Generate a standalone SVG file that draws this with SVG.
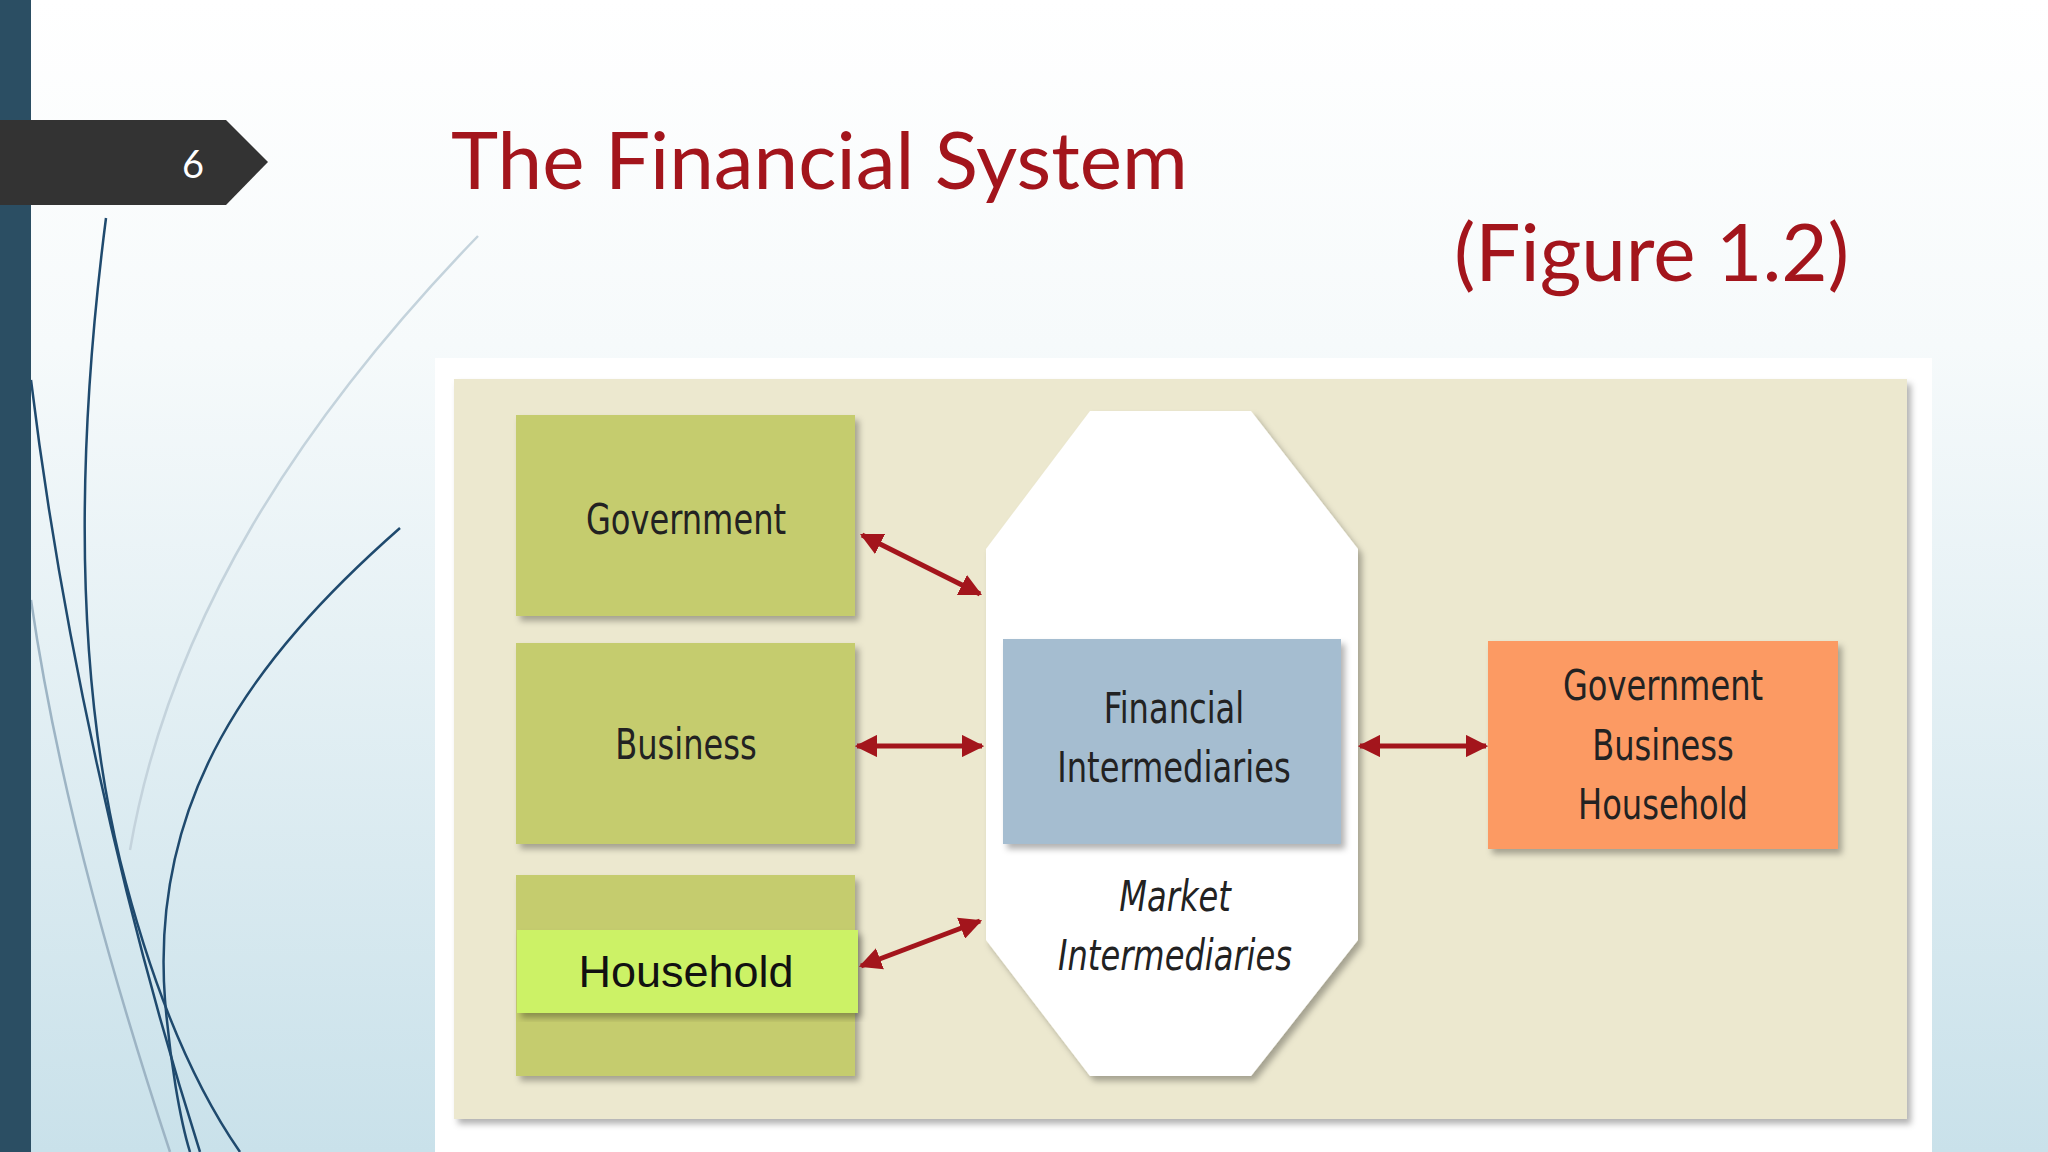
<svg xmlns="http://www.w3.org/2000/svg" width="2048" height="1152" viewBox="0 0 2048 1152">
<defs>
<linearGradient id="bg" x1="0" y1="0" x2="0" y2="1"><stop offset="0" stop-color="#ffffff"/><stop offset="0.3" stop-color="#f6fafb"/><stop offset="1" stop-color="#c9e1ea"/></linearGradient>
<marker id="ah" viewBox="0 0 10 10" refX="9" refY="5" markerWidth="4.5" markerHeight="4.5" orient="auto-start-reverse"><path d="M0,0L10,5L0,10z" fill="#a3151c"/></marker>
<filter id="sh" x="-5%" y="-5%" width="115%" height="115%"><feDropShadow dx="4" dy="5" stdDeviation="3" flood-color="#000" flood-opacity="0.3"/></filter>
</defs>
<style>
.gb{fill:#c5cc6e;filter:url(#sh)}
.t{font-family:"DejaVu Sans Condensed","DejaVu Sans",sans-serif;font-size:42px;fill:#222;text-anchor:middle;transform-box:fill-box;transform-origin:center;transform:scaleX(0.85)}
.ar{stroke:#a3151c;stroke-width:5;fill:none;marker-start:url(#ah);marker-end:url(#ah)}
.ttl{font-family:"Lato","Liberation Sans",sans-serif;fill:#a3151c}
</style>
<rect width="2048" height="1152" fill="url(#bg)"/>
<g fill="none" stroke="#1f4a6e" stroke-width="2.5">
<path d="M106,218 C80,420 70,650 120,860 C150,980 190,1080 240,1152"/>
<path d="M31,380 C60,620 120,900 200,1152"/>
<path d="M400,528 C250,660 150,800 165,1000 C170,1060 180,1120 190,1152"/>
<path d="M31,600 C60,800 120,1000 170,1152" stroke="#9db4c4"/>
<path d="M478,236 C300,420 170,620 130,850" stroke="#c4d3dc"/>
</g>
<rect x="0" y="0" width="31" height="1152" fill="#2b4e63"/>
<path d="M0,120 H226 L268,162 L226,205 H0z" fill="#333"/>
<text x="193" y="178" font-family="Lato,sans-serif" font-size="38" fill="#fff" text-anchor="middle">6</text>
<text class="ttl" x="451" y="189" font-size="80">The Financial System</text>
<text class="ttl" x="1454" y="281" font-size="80">(Figure 1.2)</text>
<rect x="435" y="358" width="1497" height="794" fill="#fff"/>
<rect x="454" y="379" width="1453" height="740" fill="#ece8cf" filter="url(#sh)"/>
<g id="government"><rect class="gb" x="516" y="415" width="339" height="201"/><text class="t" x="686" y="534">Government</text></g>
<g id="business"><rect class="gb" x="516" y="643" width="339" height="201"/><text class="t" x="686" y="759">Business</text></g>
<g id="household"><rect class="gb" x="516" y="875" width="339" height="201"/><rect x="517" y="930" width="341" height="83" fill="#ccf266" filter="url(#sh)"/><text x="686" y="987" font-family="Liberation Sans,sans-serif" font-size="45" fill="#111" text-anchor="middle">Household</text></g>
<g id="market"><path d="M1090,411 H1251 L1358,549 V940 L1251,1076 H1090 L986,940 V549z" fill="#fff" filter="url(#sh)"/>
<text class="t" x="1175" y="911" font-style="italic">Market</text><text class="t" x="1175" y="970" font-style="italic">Intermediaries</text></g>
<g id="fi"><rect x="1003" y="639" width="338" height="205" fill="#a5bdd0" filter="url(#sh)"/><text class="t" x="1174" y="723">Financial</text><text class="t" x="1174" y="782">Intermediaries</text></g>
<g id="gbh"><rect x="1488" y="641" width="350" height="208" fill="#fc9a63" filter="url(#sh)"/><text class="t" x="1663" y="700">Government</text><text class="t" x="1663" y="760">Business</text><text class="t" x="1663" y="819">Household</text></g>
<g id="connectors">
<line class="ar" x1="862" y1="535" x2="980" y2="594"/>
<line class="ar" x1="857" y1="746" x2="982" y2="746"/>
<line class="ar" x1="861" y1="966" x2="980" y2="921"/>
<line class="ar" x1="1360" y1="746" x2="1486" y2="746"/>
</g>
</svg>
